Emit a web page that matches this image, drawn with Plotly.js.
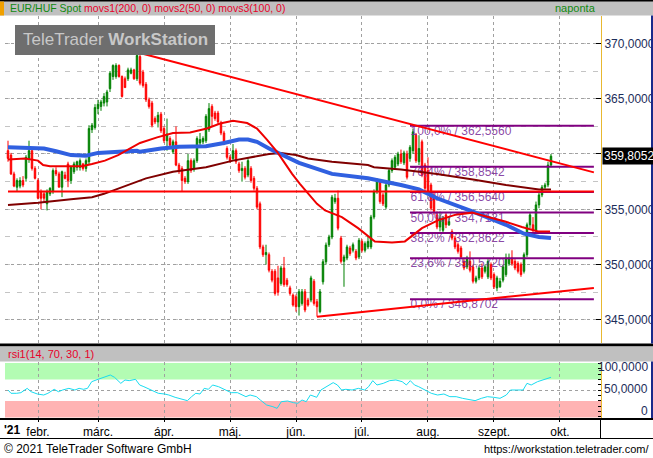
<!DOCTYPE html>
<html>
<head>
<meta charset="utf-8">
<script src="https://cdn.plot.ly/plotly-3.0.1.min.js"></script>
<style>
  html, body { margin: 0; padding: 0; background: #ffffff; }
  #chart { width: 653px; height: 458px; }
</style>
</head>
<body>
<div id="chart"></div>
<script>
// EUR/HUF Spot, daily candles (index = trading day, 0 = 18 Jan 2021)
const candleOpen = [
  360.3,359.9,358.2,357.0,357.1,357.6,357.8,359.5,360.3,358.7,357.6,356.6,356.4,355.5,356.4,356.6,358.5,358.2,357.0,358.1,
  359.1,357.6,358.4,358.8,358.8,359.1,358.7,359.3,362.2,362.4,364.1,364.3,364.6,364.7,365.9,367.0,367.0,368.0,367.0,366.8,
  366.8,367.3,367.6,366.8,368.8,367.4,366.3,364.9,364.6,363.2,362.9,363.6,362.3,361.2,361.4,360.2,361.1,359.0,358.7,357.8,
  357.5,359.4,358.7,359.4,361.0,361.1,361.2,362.2,364.3,363.7,363.7,362.8,361.9,360.5,359.7,359.6,360.3,359.1,358.5,358.7,
  358.1,358.7,357.8,356.9,355.5,351.6,350.9,350.9,349.4,349.4,348.8,348.3,349.7,348.6,347.9,347.25,347.1,346.2,346.5,347.55,
  346.8,346.8,348.5,346.65,345.75,348.45,350.26,351.8,352.5,355.7,356.0,352.4,350.3,350.6,351.5,351.3,351.2,350.7,352.1,351.3,
  351.6,351.6,354.3,356.6,357.5,356.3,355.2,357.2,358.5,358.8,359.1,360.0,359.2,360.0,359.6,360.3,361.7,359.3,361.1,359.0,
  358.5,357.2,356.3,354.5,353.4,353.1,354.5,353.6,353.0,352.4,351.8,351.5,350.3,349.8,350.3,349.8,348.5,348.8,349.7,349.4,
  348.9,350.0,349.1,347.9,348.0,348.6,349.1,350.1,350.6,350.3,350.1,350.0,349.4,350.9,353.6,353.6,353.1,355.4,356.3,357.0,
  357.2,359.0
];
const candleHigh = [
  361.2,360.1,358.4,357.8,357.9,358.0,359.9,361.2,360.5,358.9,357.8,356.8,356.6,356.8,357.0,358.7,358.8,358.4,358.5,358.4,
  359.3,358.9,359.3,359.4,359.6,359.2,359.6,362.6,362.8,364.5,364.9,364.9,365.5,365.8,367.5,368.1,368.2,368.1,367.1,367.0,
  367.8,367.8,367.7,369.2,369.0,367.6,366.5,365.1,364.8,363.4,363.8,363.8,362.5,363.2,361.6,361.3,362.5,359.2,358.9,358.0,
  360.0,359.6,359.6,361.6,361.9,361.6,363.6,364.6,364.5,363.9,363.9,363.0,362.1,360.7,359.9,360.9,360.5,359.3,359.3,358.9,
  359.6,358.9,358.0,357.1,355.7,351.8,351.8,351.1,349.6,349.6,349.9,349.9,350.7,348.8,348.1,347.4,347.3,347.8,347.8,347.8,
  347.0,349.0,348.7,346.9,347.8,350.5,352.0,352.7,356.3,356.4,356.7,352.6,350.9,351.8,351.7,352.0,351.4,352.4,352.3,352.1,
  352.6,354.5,356.8,357.8,357.7,356.5,357.4,358.7,359.6,359.9,360.2,360.4,360.3,360.3,360.8,362.3,361.9,361.7,361.3,359.2,
  359.7,357.4,356.6,354.8,354.8,354.4,354.7,354.3,353.2,352.6,352.0,351.7,350.5,350.8,351.2,350.0,349.0,349.9,350.1,350.0,
  350.5,350.2,349.3,349.0,348.8,350.0,351.0,351.0,351.3,350.5,350.3,350.2,351.1,353.8,354.7,354.3,355.7,356.6,357.2,357.4,
  359.3,360.0
];
const candleLow = [
  359.3,358.1,357.0,356.6,356.9,357.0,357.5,359.2,358.5,357.7,355.9,355.0,355.6,354.9,356.2,356.4,358.0,357.0,356.1,357.7,
  357.0,357.3,358.2,358.5,358.5,358.5,358.4,359.0,361.9,362.2,363.6,363.9,364.3,364.3,365.6,366.7,366.8,366.9,365.1,366.0,
  366.6,367.2,366.7,366.6,366.2,366.0,364.7,364.1,362.4,362.7,362.4,361.9,361.0,360.3,360.6,360.0,358.9,358.2,356.6,357.3,
  357.3,358.3,358.4,359.2,360.8,360.9,361.0,362.0,362.5,363.0,362.7,361.7,360.8,359.5,359.2,359.4,359.1,358.3,357.5,357.7,
  357.9,357.4,356.7,355.0,351.4,350.7,350.0,349.3,348.4,347.2,347.2,348.1,348.0,348.0,347.2,346.2,345.75,345.4,346.3,345.7,
  346.2,346.6,346.3,345.3,345.6,348.2,350.0,351.6,352.3,355.5,353.1,350.1,348.0,350.4,350.8,351.1,350.4,350.5,351.1,351.1,
  351.4,351.4,354.1,356.4,355.5,355.3,355.0,357.0,358.3,358.6,358.9,359.1,359.0,357.7,359.3,360.0,359.2,359.0,357.9,356.6,
  356.3,354.9,354.5,353.2,353.0,352.8,353.3,353.5,352.2,351.4,351.0,350.5,349.5,349.6,349.3,348.3,348.3,348.6,348.7,349.2,
  348.7,348.6,347.8,347.6,347.9,348.4,348.9,349.9,349.9,349.5,349.2,348.9,349.2,350.7,353.3,352.9,352.9,355.1,356.1,356.8,
  357.0,358.8
];
const candleClose = [
  359.6,358.2,357.1,357.6,357.6,357.2,359.7,360.3,358.7,357.8,356.0,356.0,356.0,356.6,356.9,358.5,358.2,357.0,358.4,357.8,
  357.6,358.8,359.1,359.3,359.4,358.7,359.4,362.3,362.6,364.2,364.5,364.7,365.2,365.6,367.3,368.0,368.0,367.0,365.2,366.0,
  367.6,367.6,366.8,368.9,366.4,366.2,364.9,364.3,362.6,362.9,363.5,362.1,361.2,361.8,360.8,361.1,359.0,358.4,357.6,357.5,
  359.4,358.5,359.4,361.4,361.3,361.4,363.4,364.1,363.4,363.2,362.9,361.9,361.0,359.7,359.4,360.3,359.3,358.5,358.7,357.9,
  359.4,357.6,356.9,355.2,351.6,350.9,351.1,349.5,348.6,347.4,347.5,349.7,348.2,348.2,347.4,346.35,346.2,347.55,347.55,345.9,
  346.35,348.8,346.5,346.2,347.55,350.26,351.77,352.5,356.1,356.0,353.3,350.3,350.7,351.6,351.0,351.8,350.6,352.2,351.3,351.9,
  352.1,354.3,356.6,357.6,355.7,355.5,357.2,358.5,359.4,359.7,360.0,359.3,360.1,357.9,360.6,362.0,359.4,360.5,358.1,356.9,
  356.6,355.1,354.8,353.4,354.2,354.2,353.6,353.9,352.4,351.6,351.2,350.7,349.7,350.6,349.5,348.5,348.8,349.7,348.9,349.8,
  350.3,348.8,348.0,348.8,348.5,349.8,350.6,350.6,350.1,349.7,349.4,349.1,350.9,353.6,354.5,353.1,355.4,356.3,357.0,357.2,
  359.0,359.8052
];
const lastPrice = 359.8052;

// moving averages, read at selected trading days
const ma200Day = [0, 10, 21, 28, 32, 38, 46, 55, 66, 75, 87, 91, 96, 100, 108, 120, 122, 131, 143, 155, 166, 177, 181];
const ma200Val = [355.4, 355.6, 355.9, 356.1, 356.4, 357.0, 357.8, 358.4, 358.8, 359.4, 360.0, 360.1, 359.9, 359.6, 359.3, 359.0, 358.8, 358.6, 358.2, 357.7, 357.2, 356.8, 356.8];
const ma50Day = [0, 5.7, 10, 11.7, 14, 24.7, 28, 32.3, 36.7, 41.3, 44, 49.7, 55, 60.7, 66.3, 70.7, 75, 79.7, 83, 86.3, 89.7, 91.7, 94.7, 97.3, 100, 103, 105.7, 111.3, 116.7, 122.3, 128, 132.3, 138, 143.3, 149, 154.7, 160, 165.7, 171.3, 176.7, 180.7];
const ma50Val = [359.5, 359.6, 359.4, 359.0, 358.9, 358.9, 359.1, 359.4, 359.9, 360.6, 361.0, 361.5, 361.9, 361.95, 362.3, 362.75, 363.0, 362.8, 362.3, 361.3, 360.2, 359.4, 358.2, 357.3, 356.4, 355.5, 354.9, 354.3, 353.3, 352.1, 352.0, 352.1, 353.3, 354.0, 354.5, 354.7, 354.3, 353.9, 353.4, 353.0, 353.0];
const ma100Day = [0, 12, 16, 21, 26, 30, 37, 43, 44, 51, 57, 66, 72, 77, 80, 83, 87, 91, 97, 108, 120, 131, 137, 143, 155, 166, 172, 177, 181];
const ma100Val = [360.6, 360.5, 360.25, 359.9, 359.85, 360.1, 360.2, 360.3, 360.2, 360.5, 360.65, 360.7, 361.0, 361.3, 361.3, 361.1, 360.5, 360.0, 359.2, 358.2, 357.8, 357.2, 356.8, 356.0, 354.8, 353.6, 352.8, 352.5, 352.4];

// drawn trend lines (anchor day, anchor value)
const trendDownDay = [43, 195.3];
const trendDownVal = [369.2, 358.34];
const supportDay = [0, 195.3];
const supportVal = [356.6, 356.6];
const trendUpDay = [103, 195.3];
const trendUpVal = [345.3, 347.9];

// Fibonacci retracement
const fibPct = ['100,0%', '76,4%', '61,8%', '50,0%', '38,2%', '23,6%', '0,0%'];
const fibLevel = [362.556, 358.8542, 356.564, 354.7131, 352.8622, 350.572, 346.8702];
const fibFrom = 134, fibTo = 195.3;

// RSI(14)
const rsiDay = [0, 1, 2.9, 4.3, 6.4, 7.7, 9.8, 11.9, 13.3, 15.4, 16.8, 18.2, 20.3, 22.3, 23.7, 25.1, 26.5, 27.9, 30, 32.1, 34.1, 35.5, 37.6, 39, 40.4, 42.5, 43.9, 45.3, 47.3, 50.1, 52.2, 53.6, 55.7, 58.4, 59.8, 61.2, 62.6, 64, 65.4, 66.8, 68.2, 70.2, 72.3, 74.4, 76.5, 77.9, 79.3, 80.7, 82.8, 84.1, 86.2, 88.3, 89.7, 91.1, 93.2, 95.2, 96.6, 98, 99.4, 100.8, 102.9, 104.3, 106.3, 108.4, 109.8, 111.2, 112.6, 114.7, 116.8, 118.9, 120.2, 121.6, 123, 125.1, 127.2, 129.3, 131.4, 132.8, 134.1, 135.5, 136.9, 139, 141.1, 143.2, 145.3, 147.3, 149.4, 151.5, 153.6, 155.7, 157.8, 159.8, 161.9, 164, 166.1, 167.5, 169.6, 171.7, 173, 174.4, 176.5, 178.6, 181];
const rsiVal = [50.5, 44.3, 44.3, 45.5, 53.6, 47.3, 43.0, 41.1, 44.3, 51.8, 47.3, 50.5, 53.6, 50.5, 53.6, 51.8, 53.6, 66.1, 70.5, 74.3, 78.6, 74.3, 63.0, 69.3, 68.0, 70.5, 59.9, 56.7, 51.8, 44.3, 43.0, 41.1, 36.8, 31.8, 30.5, 38.0, 44.3, 43.0, 53.6, 51.8, 59.9, 56.7, 50.5, 45.5, 45.5, 41.1, 38.0, 41.1, 38.0, 31.8, 22.4, 19.2, 16.1, 28.6, 29.9, 26.7, 25.5, 31.8, 28.6, 41.1, 36.8, 50.5, 56.7, 64.3, 59.9, 50.5, 51.8, 50.5, 53.6, 50.5, 56.7, 68.0, 59.9, 63.0, 68.0, 69.3, 66.1, 59.9, 68.0, 59.9, 56.7, 50.5, 44.3, 41.1, 43.0, 38.0, 38.0, 34.9, 33.0, 30.5, 34.9, 38.0, 36.8, 34.9, 41.1, 50.5, 50.5, 50.5, 63.0, 59.9, 66.1, 69.3, 74.3];

// month grid / labels
const monthDay = [10, 30, 52, 74, 96, 118, 140, 162, 184];
const monthLabel = ['febr.', 'márc.', 'ápr.', 'máj.', 'jún.', 'júl.', 'aug.', 'szept.', 'okt.'];

const W = 653, H = 458;
const px = v => v / W;
const py = v => 1 - v / H;
const FONT = 'Liberation Sans, Arial, sans-serif';
const dayIndex = candleClose.map((_, k) => k);
const xRange = [-1, 197.67];

const fmt = (v, d) => v.toFixed(d).replace('.', ',');

const traces = [];

// Fibonacci labels sit beneath the price marks
traces.push({
  type: 'scatter', mode: 'text', xaxis: 'x', yaxis: 'y',
  x: fibLevel.map(() => fibFrom + 0.2), y: fibLevel,
  text: fibLevel.map((v, k) => fibPct[k] + ' / ' + fmt(v, 4)),
  textposition: 'bottom right',
  textfont: { family: FONT, size: 12, color: 'rgba(118,40,150,0.85)' },
  hoverinfo: 'skip', showlegend: false
});
// Fibonacci lines
fibLevel.forEach(v => traces.push({
  type: 'scatter', mode: 'lines', xaxis: 'x', yaxis: 'y',
  x: [fibFrom, fibTo], y: [v, v],
  line: { color: '#800080', width: 2 }, hoverinfo: 'skip', showlegend: false
}));

traces.push({
  type: 'candlestick', xaxis: 'x', yaxis: 'y',
  x: dayIndex, open: candleOpen, high: candleHigh, low: candleLow, close: candleClose,
  increasing: { line: { color: '#008000', width: 1 }, fillcolor: '#008000' },
  decreasing: { line: { color: '#ff0000', width: 1 }, fillcolor: '#ff0000' },
  whiskerwidth: 0, hoverinfo: 'skip', showlegend: false
});

traces.push({ type: 'scatter', mode: 'lines', xaxis: 'x', yaxis: 'y', x: ma200Day, y: ma200Val,
  line: { color: '#800000', width: 2 }, hoverinfo: 'skip', showlegend: false });
traces.push({ type: 'scatter', mode: 'lines', xaxis: 'x', yaxis: 'y', x: ma100Day, y: ma100Val,
  line: { color: '#3060e0', width: 4 }, hoverinfo: 'skip', showlegend: false });
traces.push({ type: 'scatter', mode: 'lines', xaxis: 'x', yaxis: 'y', x: ma50Day, y: ma50Val,
  line: { color: '#ee0000', width: 2 }, hoverinfo: 'skip', showlegend: false });

[[trendDownDay, trendDownVal], [supportDay, supportVal], [trendUpDay, trendUpVal]].forEach(([xs, ys]) =>
  traces.push({ type: 'scatter', mode: 'lines', xaxis: 'x', yaxis: 'y', x: xs, y: ys,
    line: { color: '#ff0000', width: 2 }, hoverinfo: 'skip', showlegend: false }));

// RSI panel
traces.push({ type: 'scatter', mode: 'lines', xaxis: 'x2', yaxis: 'y2', x: rsiDay, y: rsiVal,
  line: { color: '#18dcf0', width: 1 }, hoverinfo: 'skip', showlegend: false });

const mainRange = [342.92, 372.47];
const rsiRange = [-2, 103];

const layout = {
  width: W, height: H,
  margin: { l: 0, r: 0, t: 0, b: 0 },
  paper_bgcolor: '#ffffff', plot_bgcolor: '#ffffff',
  showlegend: false,
  font: { family: FONT, size: 12, color: '#000' },
  xaxis: {
    domain: [px(5), px(601)], range: xRange, anchor: 'y',
    tickvals: monthDay, showticklabels: false, ticks: '',
    showgrid: true, gridcolor: '#a0a0a0', griddash: 'dot', gridwidth: 1,
    zeroline: false, showline: false, rangeslider: { visible: false }, fixedrange: true
  },
  yaxis: {
    domain: [py(343), py(16)], range: mainRange, anchor: 'x', side: 'right',
    tickvals: [345, 350, 355, 360, 365, 370],
    ticktext: ['345,0000', '350,0000', '355,0000', '', '365,0000', '370,0000'],
    ticks: 'inside', ticklen: 5, tickcolor: '#000', tickfont: { family: FONT, size: 12, color: '#1c2d5a' },
    showgrid: true, gridcolor: '#a0a0a0', griddash: 'dot',
    minor: { tick0: 0, dtick: 2.5, showgrid: true, gridcolor: '#c4c4c4', griddash: '5px,7px', ticks: '' },
    showline: true, linecolor: '#e8b830', linewidth: 1, zeroline: false, fixedrange: true
  },
  // small ticks every half forint on both sides
  yaxis3: { overlaying: 'y', side: 'right', anchor: 'x', range: mainRange, dtick: 0.5, tick0: 0,
    ticks: 'inside', ticklen: 3, tickcolor: '#000', showticklabels: false, showgrid: false, zeroline: false },
  yaxis4: { overlaying: 'y', side: 'left', anchor: 'x', range: mainRange, dtick: 0.5, tick0: 0,
    ticks: 'outside', ticklen: 4, tickcolor: '#000', showticklabels: false, showgrid: false, zeroline: false },
  xaxis2: {
    domain: [px(5), px(601)], range: xRange, anchor: 'y2',
    tickvals: monthDay, ticktext: monthLabel, ticks: 'outside', ticklen: 3, tickcolor: '#000',
    tickfont: { family: FONT, size: 12, color: '#000' },
    showgrid: true, gridcolor: '#a0a0a0', griddash: 'dot',
    zeroline: false, showline: false, fixedrange: true
  },
  yaxis2: {
    domain: [py(418), py(362)], range: rsiRange, anchor: 'x2', side: 'right',
    tickvals: [50], showticklabels: false, ticks: '',
    showgrid: true, gridcolor: '#a0a0a0', griddash: 'dot',
    minor: { tick0: 0, dtick: 10, ticks: 'inside', ticklen: 3, tickcolor: '#000' },
    showline: true, linecolor: '#e8b830', linewidth: 1, zeroline: false, fixedrange: true
  },
  yaxis5: { overlaying: 'y2', side: 'left', anchor: 'x2', range: rsiRange, dtick: 10, tick0: 0,
    ticks: 'outside', ticklen: 4, tickcolor: '#000', showticklabels: false, showgrid: false, zeroline: false },
  shapes: [
    // RSI zones
    { type: 'rect', xref: 'x2', yref: 'y2', x0: xRange[0], x1: xRange[1], y0: 70, y1: 101, fillcolor: '#b3fcb3', line: { width: 0 }, layer: 'below' },
    { type: 'rect', xref: 'x2', yref: 'y2', x0: xRange[0], x1: xRange[1], y0: -1, y1: 30, fillcolor: '#ffb3b3', line: { width: 0 }, layer: 'below' },
    // title bar
    { type: 'rect', xref: 'paper', yref: 'paper', x0: 0, x1: 1, y0: py(15.5), y1: py(0), fillcolor: '#c0c0c0', line: { width: 0 } },
    { type: 'rect', xref: 'paper', yref: 'paper', x0: 0, x1: 1, y0: py(1.5), y1: py(0), fillcolor: '#000', line: { width: 0 } },
    { type: 'rect', xref: 'paper', yref: 'paper', x0: 0, x1: px(4), y0: py(15.5), y1: py(1.5), fillcolor: '#f0a000', line: { width: 0 } },
    // panel separator and RSI title bar
    { type: 'rect', xref: 'paper', yref: 'paper', x0: 0, x1: 1, y0: py(346.5), y1: py(343.5), fillcolor: '#000', line: { width: 0 } },
    { type: 'rect', xref: 'paper', yref: 'paper', x0: 0, x1: 1, y0: py(361.5), y1: py(346.5), fillcolor: '#c0c0c0', line: { width: 0 } },
    // date row frame
    { type: 'rect', xref: 'paper', yref: 'paper', x0: 0, x1: 1, y0: py(420), y1: py(418), fillcolor: '#000', line: { width: 0 } },
    { type: 'line', xref: 'paper', yref: 'paper', x0: 0, x1: 1, y0: py(438.5), y1: py(438.5), line: { color: '#000', width: 1 } },
    { type: 'line', xref: 'paper', yref: 'paper', x0: px(600.5), x1: px(600.5), y0: py(438.5), y1: py(420), line: { color: '#000', width: 1 } },
    // right border of the scale column
    { type: 'line', xref: 'paper', yref: 'paper', x0: px(652), x1: px(652), y0: py(343.5), y1: py(15.5), line: { color: '#1a2a8a', width: 2 } },
    { type: 'line', xref: 'paper', yref: 'paper', x0: px(652), x1: px(652), y0: py(418), y1: py(361.5), line: { color: '#1a2a8a', width: 2 } },
    // watermark plate
    { type: 'rect', xref: 'paper', yref: 'paper', x0: px(15), x1: px(215), y0: py(55), y1: py(25), fillcolor: '#6e6e6e', line: { width: 0 } }
  ],
  annotations: [
    { xref: 'paper', yref: 'paper', x: px(8), y: py(8), xanchor: 'left', yanchor: 'middle', showarrow: false,
      text: 'EUR/HUF Spot <span style="color:#e8002a">movs1(200, 0) movs2(50, 0) movs3(100, 0)</span>',
      font: { family: FONT, size: 10.5, color: '#108a10' } },
    { xref: 'paper', yref: 'paper', x: px(598), y: py(8), xanchor: 'right', yanchor: 'middle', showarrow: false,
      text: 'naponta', font: { family: FONT, size: 11, color: '#108a10' } },
    { xref: 'paper', yref: 'paper', x: px(115), y: py(40), xanchor: 'center', yanchor: 'middle', showarrow: false,
      text: 'TeleTrader <b>WorkStation</b>', font: { family: FONT, size: 17, color: '#c8c8c8' } },
    { xref: 'paper', yref: 'y', x: px(602), y: lastPrice, xanchor: 'left', yanchor: 'middle', showarrow: false,
      text: fmt(lastPrice, 4), bgcolor: '#000', borderpad: 1, font: { family: FONT, size: 12, color: '#fff' } },
    { xref: 'paper', yref: 'paper', x: px(6), y: py(354), xanchor: 'left', yanchor: 'middle', showarrow: false,
      text: 'rsi1(14, 70, 30, 1)', font: { family: FONT, size: 11, color: '#e8002a' } },
    { xref: 'paper', yref: 'paper', x: px(650), y: py(367), xanchor: 'right', yanchor: 'middle', showarrow: false,
      text: '100,0000', font: { family: FONT, size: 12, color: '#1c2d5a' } },
    { xref: 'paper', yref: 'paper', x: px(650), y: py(389), xanchor: 'right', yanchor: 'middle', showarrow: false,
      text: '50,0000', font: { family: FONT, size: 12, color: '#1c2d5a' } },
    { xref: 'paper', yref: 'paper', x: px(650), y: py(411), xanchor: 'right', yanchor: 'middle', showarrow: false,
      text: '0', font: { family: FONT, size: 12, color: '#1c2d5a' } },
    { xref: 'paper', yref: 'paper', x: px(2), y: py(430), xanchor: 'left', yanchor: 'middle', showarrow: false,
      text: "<b>'21</b>", font: { family: FONT, size: 12, color: '#000' } },
    { xref: 'paper', yref: 'paper', x: px(2), y: py(449), xanchor: 'left', yanchor: 'middle', showarrow: false,
      text: '© 2021 TeleTrader Software GmbH', font: { family: FONT, size: 12, color: '#000' } },
    { xref: 'paper', yref: 'paper', x: px(651), y: py(449), xanchor: 'right', yanchor: 'middle', showarrow: false,
      text: 'https://workstation.teletrader.com/', font: { family: FONT, size: 11, color: '#000' } }
  ]
};

Plotly.newPlot('chart', traces, layout, { staticPlot: true, displayModeBar: false });
</script>
</body>
</html>
